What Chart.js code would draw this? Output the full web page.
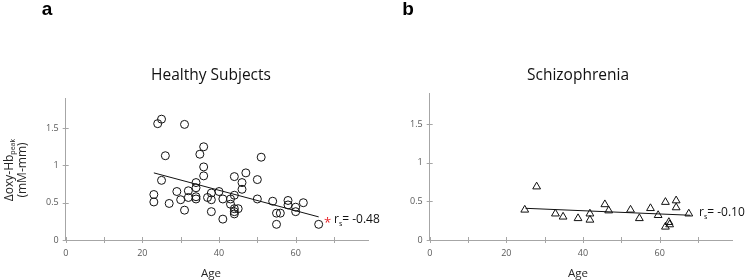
<!DOCTYPE html>
<html>
<head>
<meta charset="utf-8">
<script src="https://cdn.jsdelivr.net/npm/chart.js@4.4.0/dist/chart.umd.min.js"></script>
<style>
  body { margin: 0; background: #fff; }
  #wrap { position: relative; width: 748px; height: 280px; overflow: hidden; background: #fff; }
  canvas { position: absolute; top: 0; }
</style>
</head>
<body>
<div id="wrap">
  <canvas id="left" width="400" height="280" style="left:0"></canvas>
  <canvas id="right" width="374" height="280" style="left:374px"></canvas>
</div>
<script>
// --- values ---
const healthyAge = [24, 25, 31, 26, 36, 35, 51, 36, 36, 47, 44, 50, 25, 34, 46, 46, 34,
  23, 23, 29, 32, 30, 32, 34, 34, 27, 31, 37, 38, 38, 40, 41, 38, 41, 43, 43,
  44, 44, 44, 44, 45, 50, 54, 55, 56, 55, 58, 58, 60, 60, 62, 66];
const healthyHb = [1.56, 1.62, 1.55, 1.13, 1.25, 1.15, 1.11, 0.98, 0.86, 0.90, 0.85, 0.81, 0.80, 0.77, 0.77, 0.68, 0.70,
  0.61, 0.51, 0.65, 0.66, 0.54, 0.57, 0.58, 0.55, 0.49, 0.40, 0.57, 0.63, 0.54, 0.65, 0.55, 0.38, 0.28, 0.55, 0.48,
  0.60, 0.42, 0.38, 0.35, 0.42, 0.55, 0.52, 0.36, 0.36, 0.21, 0.53, 0.47, 0.44, 0.38, 0.50, 0.21];
const healthyFitAge = [23, 66];
const healthyFitHb = [0.90, 0.31];

const schizAge = [24.8, 27.9, 32.8, 34.8, 38.7, 41.8, 41.8, 45.7, 46.7, 52.4, 54.7, 57.6, 59.6,
  61.5, 61.5, 62.4, 62.6, 64.3, 64.3, 67.6];
const schizHb = [0.39, 0.69, 0.34, 0.30, 0.28, 0.34, 0.26, 0.46, 0.38, 0.39, 0.28, 0.41, 0.32,
  0.49, 0.17, 0.23, 0.20, 0.51, 0.42, 0.34];
const schizFitAge = [25, 68];
const schizFitHb = [0.41, 0.32];

const xTickLabels = [0, 20, 40, 60];
const yTickLabels = [0, 0.5, 1, 1.5];

const axisGrey = '#a6a6a6';
const labelGrey = '#595959';
const FONT = '"Open Sans", "Noto Sans", sans-serif';

function toPoints(xs, ys) {
  return xs.map((x, i) => ({ x: x, y: ys[i] }));
}

// Excel style tick marks that cross the axis line
const crossTicks = {
  id: 'crossTicks',
  afterDraw(chart) {
    const ctx = chart.ctx;
    const xs = chart.scales.x, ys = chart.scales.y;
    ctx.save();
    ctx.strokeStyle = axisGrey;
    ctx.lineWidth = 1;
    xs.ticks.forEach(t => {
      const px = Math.round(xs.getPixelForValue(t.value)) + 0.5;
      ctx.beginPath(); ctx.moveTo(px, ys.bottom - 3); ctx.lineTo(px, ys.bottom + 3); ctx.stroke();
    });
    ys.ticks.forEach(t => {
      const py = Math.round(ys.getPixelForValue(t.value)) + 0.5;
      ctx.beginPath(); ctx.moveTo(xs.left - 3, py); ctx.lineTo(xs.left + 3, py); ctx.stroke();
    });
    ctx.restore();
  }
};

// main text + subscript + rest, returns width
function subText(ctx, x, y, main, sub, rest, size, draw) {
  ctx.font = size + 'px ' + FONT;
  const w1 = ctx.measureText(main).width;
  const subSize = Math.round(size * 0.62);
  ctx.font = subSize + 'px ' + FONT;
  const w2 = ctx.measureText(sub).width;
  ctx.font = size + 'px ' + FONT;
  const w3 = ctx.measureText(rest).width;
  if (draw) {
    ctx.fillText(main, x, y);
    ctx.font = subSize + 'px ' + FONT;
    ctx.fillText(sub, x + w1, y + size * 0.22);
    ctx.font = size + 'px ' + FONT;
    ctx.fillText(rest, x + w1 + w2, y);
  }
  return w1 + w2 + w3;
}

const panelText = {
  id: 'panelText',
  afterDraw(chart, args, o) {
    const ctx = chart.ctx;
    ctx.save();
    ctx.textBaseline = 'alphabetic';
    // panel letter
    ctx.fillStyle = '#000';
    ctx.font = 'bold 19px "Liberation Sans", Arial, sans-serif';
    ctx.textAlign = 'center';
    ctx.fillText(o.letter, o.letterX, 15);
    // title
    ctx.fillStyle = '#111';
    ctx.font = '15.5px ' + FONT;
    ctx.fillText(o.title, o.titleX, 80);
    // x axis title
    ctx.fillStyle = '#262626';
    ctx.font = '11.5px ' + FONT;
    ctx.fillText('Age', o.titleX, 277);
    // correlation label
    ctx.textAlign = 'left';
    if (o.star) {
      ctx.fillStyle = '#e8262b';
      ctx.font = '13px ' + FONT;
      ctx.fillText('*', o.rsX - 10, o.rsY + 4);
    }
    ctx.fillStyle = '#111';
    subText(ctx, o.rsX, o.rsY, 'r', 's', '= ' + o.rs, 12, true);
    // y axis title
    if (o.yTitle) {
      ctx.fillStyle = '#262626';
      ctx.translate(12.5, 170);
      ctx.rotate(-Math.PI / 2);
      const w = subText(ctx, 0, 0, '\u0394oxy-Hb', 'peak', '', 12, false);
      subText(ctx, -w / 2, 0, '\u0394oxy-Hb', 'peak', '', 12, true);
      ctx.font = '12px ' + FONT;
      ctx.textAlign = 'center';
      ctx.fillText('(mM-mm)', 0, 13.5);
    }
    ctx.restore();
  }
};

function makeChart(id, pts, fit, style, radius, pad, yWidth, text) {
  return new Chart(document.getElementById(id), {
    type: 'scatter',
    data: {
      datasets: [
        {
          data: pts,
          pointStyle: style,
          pointRadius: radius,
          pointHoverRadius: radius,
          borderColor: '#111',
          borderWidth: 1,
          backgroundColor: 'rgba(255,255,255,0)'
        },
        {
          type: 'line',
          data: fit,
          borderColor: '#111',
          borderWidth: 1,
          pointRadius: 0,
          fill: false
        }
      ]
    },
    options: {
      responsive: false,
      animation: false,
      layout: { padding: pad },
      plugins: {
        legend: { display: false },
        tooltip: { enabled: false },
        panelText: text
      },
      scales: {
        x: {
          type: 'linear',
          min: 0,
          max: 79,
          afterFit: (s) => { s.height = 40; },
          grid: { display: false, drawTicks: false, tickLength: 0 },
          border: { color: axisGrey, width: 1 },
          ticks: {
            stepSize: 10,
            includeBounds: false,
            autoSkip: false,
            maxRotation: 0,
            padding: 8,
            color: labelGrey,
            font: { size: 9, family: FONT },
            callback: (v) => xTickLabels.includes(v) ? String(v) : ''
          }
        },
        y: {
          type: 'linear',
          min: 0,
          max: 1.9,
          afterFit: (s) => { s.width = yWidth; },
          grid: { display: false, drawTicks: false, tickLength: 0 },
          border: { color: axisGrey, width: 1 },
          ticks: {
            stepSize: 0.5,
            includeBounds: false,
            padding: 7,
            color: labelGrey,
            font: { size: 9, family: FONT },
            callback: (v) => yTickLabels.includes(v) ? String(v) : ''
          }
        }
      }
    },
    plugins: [crossTicks, panelText]
  });
}

makeChart('left',
  toPoints(healthyAge, healthyHb),
  toPoints(healthyFitAge, healthyFitHb),
  'circle', 4,
  { left: 0, right: 31.5, top: 98.3, bottom: 0 }, 65.7,
  { letter: 'a', letterX: 47, title: 'Healthy Subjects', titleX: 211, rs: '-0.48', rsX: 334, rsY: 223, star: true, yTitle: true });

makeChart('right',
  toPoints(schizAge, schizHb),
  toPoints(schizFitAge, schizFitHb),
  'triangle', 4.5,
  { left: 0, right: 15.5, top: 93.1, bottom: 0 }, 55.7,
  { letter: 'b', letterX: 34, title: 'Schizophrenia', titleX: 204, rs: '-0.10', rsX: 325, rsY: 216, star: false, yTitle: false });
</script>
</body>
</html>
